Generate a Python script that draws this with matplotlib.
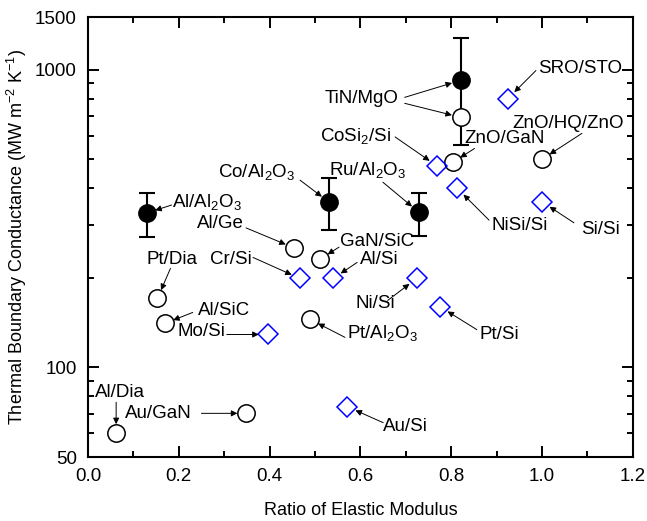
import matplotlib
matplotlib.use("Agg")
import matplotlib.pyplot as plt

plt.rcParams["font.family"] = ["Liberation Sans", "DejaVu Sans"]
plt.rcParams["mathtext.fontset"] = "custom"
plt.rcParams["mathtext.rm"] = "Liberation Sans"
plt.rcParams["mathtext.it"] = "Liberation Sans:italic"
plt.rcParams["mathtext.default"] = "rm"

# ------------------------------------
# Data
# ------------------------------------
# filled circles with error bars
filled_names = ["Al/Al$_2$O$_3$", "Co/Al$_2$O$_3$", "Ru/Al$_2$O$_3$", "TiN/MgO"]
filled_x = [0.129, 0.531, 0.729, 0.821]
filled_y = [330, 359, 332, 921]
filled_lo = [274, 289, 276, 557]
filled_hi = [385, 432, 385, 1278]

# open circles
open_names = ["TiN/MgO", "ZnO/GaN", "ZnO/HQ/ZnO", "Al/Ge", "GaN/SiC", "Pt/Dia",
              "Al/SiC", "Pt/Al$_2$O$_3$", "Al/Dia", "Au/GaN"]
open_x = [0.821, 0.803, 1.000, 0.454, 0.511, 0.153, 0.169, 0.489, 0.062, 0.349]
open_y = [692, 488, 500, 252, 231, 170.5, 140.5, 145, 60.1, 70.1]

# open diamonds (blue)
dia_names = ["SRO/STO", "CoSi$_2$/Si", "NiSi/Si", "Si/Si", "Cr/Si", "Al/Si",
             "Ni/Si", "Pt/Si", "Mo/Si", "Au/Si"]
dia_x = [0.925, 0.769, 0.813, 1.000, 0.467, 0.540, 0.724, 0.775, 0.396, 0.571]
dia_y = [800, 475, 400, 360, 199, 199, 199, 160, 129, 73.8]

# ------------------------------------
# Label layout: (text offset px, arrow start offset px) relative to point
# ------------------------------------
filled_lab = {
    0: [((25, 11), (25, 8))],
    1: [((-111, 30), (-29, 22))],
    2: [((-90, 42), (-36, 30))],
    3: [(None, (-56, -17))],
}
open_lab = {
    0: [((-136, 19), (-56, 14))],
    1: [((12, 24), (22, 14))],
    2: [((-30, 36), (40, 26))],
    3: [((-97, 24), (-48, 20))],
    4: [((20, 18), (19, 12))],
    5: [((-11, 39), (13, 30))],
    6: [((33, 13), (28, 11))],
    7: [((37, -14), (35, -18))],
    8: [((-21, 41), (0, 31))],
    9: [((-121, 0), (-45, 0))],
}
dia_lab = {
    0: [((30, 30), (28, 28))],
    1: [((-117, 30), (-42, 29))],
    2: [((34, -37), (32, -32))],
    3: [((39, -28), (32, -21))],
    4: [((-90, 19), (-47, 21))],
    5: [((27, 19), (24, 16))],
    6: [((-61, -25), (-29, -22))],
    7: [((40, -28), (37, -23))],
    8: [((-90, 3), (-41, 0))],
    9: [((36, -20), (36, -16))],
}

fig = plt.figure(figsize=(6.47, 5.21), dpi=100)
ax = fig.add_axes([0.136, 0.1228, 0.842, 0.844])

err_lo = [y - l for y, l in zip(filled_y, filled_lo)]
err_hi = [h - y for y, h in zip(filled_y, filled_hi)]
ax.errorbar(filled_x, filled_y, yerr=[err_lo, err_hi], fmt="o", color="black",
            ms=12.5, elinewidth=1.5, capsize=5.5, capthick=1.5, zorder=3)
ax.plot(open_x, open_y, "o", ms=12.5, mfc="white", mec="black", mew=1.1,
        linestyle="none", zorder=3)
ax.plot(dia_x, dia_y, "D", ms=10.5, mfc="none", mec="#0000ff", mew=1.1,
        linestyle="none", zorder=3)

arrow_kw = dict(arrowstyle="-|>", color="black", lw=0.7, mutation_scale=9,
                shrinkA=0, shrinkB=6.5)


def put_labels(names, xs, ys, layout):
    for i, items in layout.items():
        for txt_off, arr_off in items:
            if txt_off is not None:
                ax.annotate(names[i], xy=(xs[i], ys[i]), xytext=txt_off,
                            textcoords="offset pixels", ha="left", va="center",
                            fontsize=13.5)
            ax.annotate("", xy=(xs[i], ys[i]), xytext=arr_off,
                        textcoords="offset pixels", arrowprops=arrow_kw)


put_labels(filled_names, filled_x, filled_y, filled_lab)
put_labels(open_names, open_x, open_y, open_lab)
put_labels(dia_names, dia_x, dia_y, dia_lab)

ax.set_yscale("log")
ax.set_xlim(0, 1.2)
ax.set_ylim(50, 1500)
ax.set_xticks([0.0, 0.2, 0.4, 0.6, 0.8, 1.0, 1.2])
ax.set_xticklabels(["0.0", "0.2", "0.4", "0.6", "0.8", "1.0", "1.2"])
ax.set_xticks([0.1, 0.3, 0.5, 0.7, 0.9, 1.1], minor=True)
ax.set_yticks([50, 100, 1000, 1500])
ax.set_yticklabels(["50", "100", "1000", "1500"])
ax.set_yticks([60, 70, 80, 90, 200, 300, 400, 500, 600, 700, 800, 900],
              minor=True)
ax.yaxis.set_minor_formatter(matplotlib.ticker.NullFormatter())

ax.tick_params(which="both", direction="in", top=True, right=True,
               width=1.4, labelsize=13.5, pad=8)
ax.tick_params(which="major", length=8)
ax.tick_params(which="minor", length=4)
for sp in ax.spines.values():
    sp.set_linewidth(1.5)

ax.set_xlabel("Ratio of Elastic Modulus", fontsize=13, labelpad=12)
ax.set_ylabel("Thermal Boundary Conductance (MW m$^{-2}$ K$^{-1}$)",
              fontsize=13, labelpad=4)

plt.savefig("out.png", dpi=100)
plt.close()
